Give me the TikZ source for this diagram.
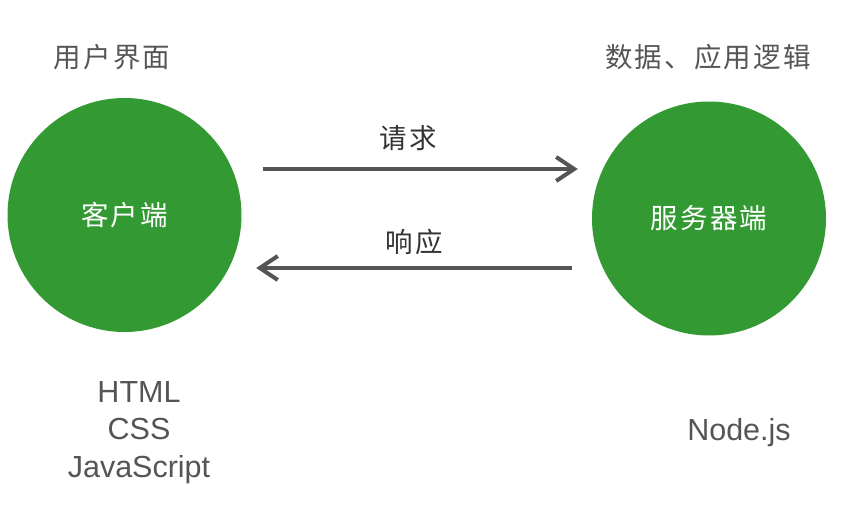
\documentclass[tikz,border=0pt]{standalone}
\usepackage{fontspec}
\setmainfont{Liberation Sans}
\newfontfamily\cjk[LetterSpace=8]{Noto Sans CJK SC}
\usetikzlibrary{arrows.meta,calc}
\definecolor{nodegreen}{HTML}{339933}
\definecolor{txtgray}{HTML}{555555}
\definecolor{txtdark}{HTML}{333333}
\definecolor{arrgray}{HTML}{555555}
\begin{document}
\begin{tikzpicture}[x=1pt,y=-1pt,
  endpoint/.style={circle,fill=nodegreen,minimum size=234pt,inner sep=0pt,text=white,font=\cjk\fontsize{27.5}{30}\selectfont},
  title/.style={text=txtgray,font=\cjk\fontsize{27.5}{30}\selectfont,inner sep=0pt},
  arrlabel/.style={text=txtdark,font=\cjk\fontsize{27.5}{30}\selectfont,inner sep=0pt},
  tech/.style={text=txtgray,font=\fontsize{30.5}{37.5}\selectfont,align=center,inner sep=0pt},
  arr/.style={draw=arrgray,line width=4pt,-{Straight Barb[length=18pt,width=24pt,line width=4pt]}}]
\useasboundingbox (0,0) rectangle (868,532);
\node[endpoint] (client) at (124.5,215) {客户端};
\node[endpoint] (server) at (709,218.5) {服务器端};
\node[title] (ui) at (112,57) {用户界面};
\node[title] (logic) at (708,57) {数据、应用逻辑};
\coordinate (ry) at (0,169);
\coordinate (sy) at (0,268);
\draw[arr,shorten <=21.5pt,shorten >=14pt] (client.east |- ry) -- (server.west |- ry);
\draw[arr,shorten <=20pt,shorten >=14.5pt] (server.west |- sy) -- (client.east |- sy);
\node[arrlabel] (req) at (408,138) {请求};
\node[arrlabel] (resp) at (414,242) {响应};
\node[tech] (front) at (139,432.5) {HTML\\CSS\\JavaScript};
\node[tech] (back) at (739,432.5) {Node.js};
\end{tikzpicture}
\end{document}
